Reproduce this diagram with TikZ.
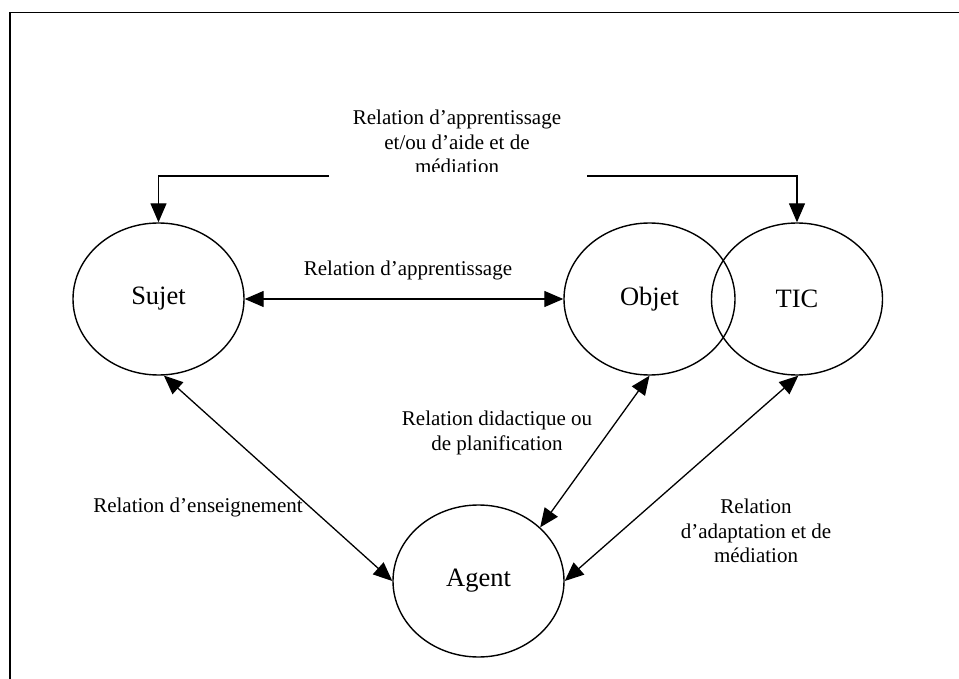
\documentclass[tikz,border=0pt]{standalone}
\usepackage{fontspec}
\setmainfont{Liberation Serif}
\usetikzlibrary{arrows.meta,shapes.geometric}
\begin{document}
\begin{tikzpicture}[x=1pt,y=-1pt,
  circ/.style={draw,line width=1.4pt,ellipse,minimum width=171pt,minimum height=152pt,inner sep=0pt,font=\fontsize{26.5}{30}\selectfont},
  rel/.style={align=center,inner sep=0pt,font=\fontsize{21}{24.5}\selectfont},
  conn/.style={line width=1.3pt,-{Triangle[length=19pt,width=16pt]}},
  biconn/.style={line width=1.3pt,{Triangle[length=19pt,width=16pt]}-{Triangle[length=19pt,width=16pt]}}]
\useasboundingbox (0,0) rectangle (959,679);
\draw[line width=1.8pt] (10,679) -- (10,12.5) -- (959,12.5);
\node[circ] (sujet) at (158.5,299) {Sujet};
\node[circ] (objet) at (649.5,299) {Objet};
\node[circ] (tic) at (797,299) {TIC};
\node[circ] (agent) at (478.5,581) {Agent};
\coordinate (tl) at (329,176);
\coordinate (tr) at (587,176);
\draw[conn] (tl) -| (sujet.north);
\draw[conn] (tr) -| (tic.north);
\begin{scope}
\clip (300,90) rectangle (620,172);
\node[rel] (ltop) at (457,142) {Relation d’apprentissage\\et/ou d’aide et de\\médiation};
\end{scope}
\draw[biconn] (sujet.east) -- (objet.west);
\node[rel] (lmid) at (408,270) {Relation d’apprentissage};
\draw[biconn] (sujet.-86) -- (agent.west);
\draw[biconn] (objet.south) -- (agent.41);
\draw[biconn] (tic.-89) -- (agent.east);
\node[rel] (ldid) at (497,433) {Relation didactique ou\\de planification};
\node[rel] (lens) at (198,507) {Relation d’enseignement};
\node[rel] (lada) at (756,531) {Relation\\d’adaptation et de\\médiation};
\end{tikzpicture}
\end{document}
